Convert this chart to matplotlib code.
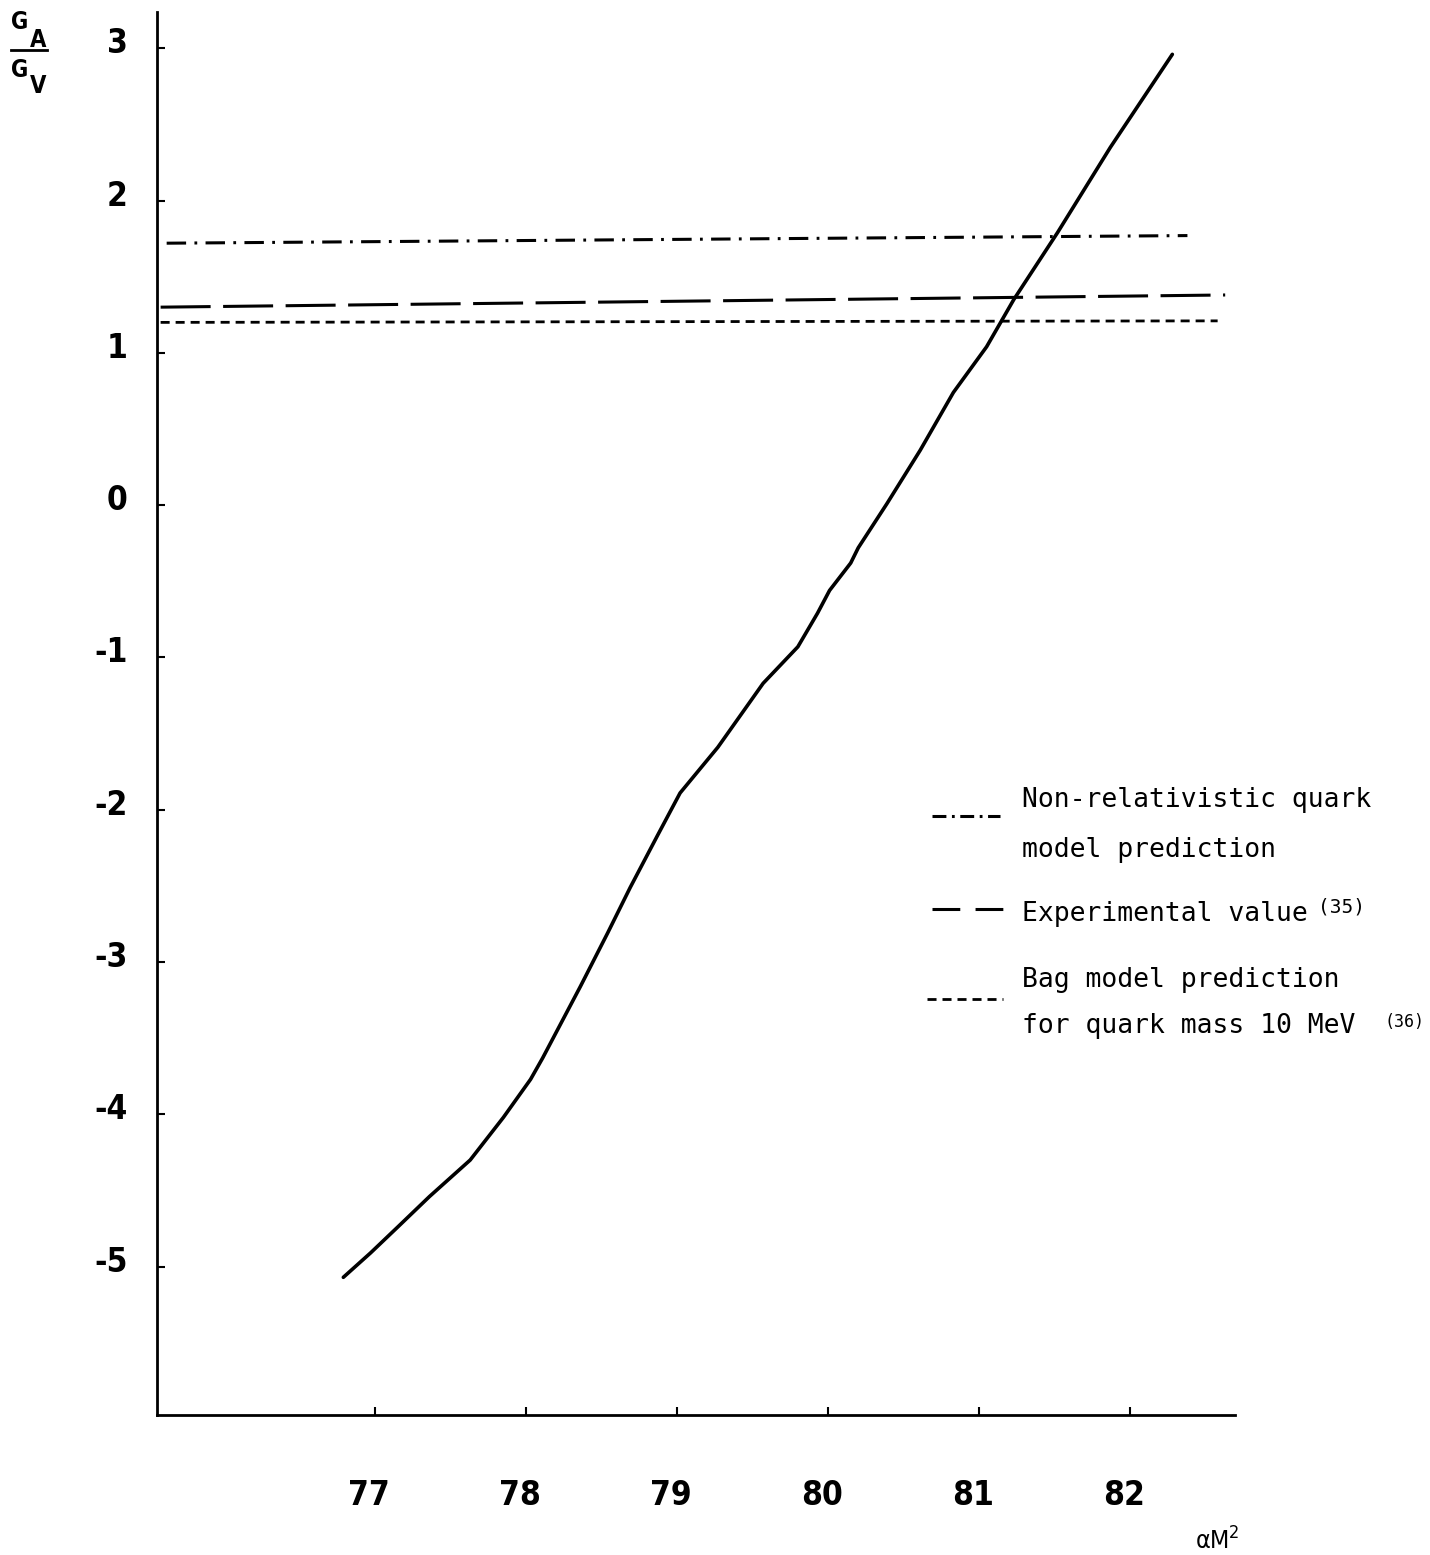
import matplotlib
matplotlib.use("Agg")
import matplotlib.pyplot as plt
from matplotlib import font_manager
from matplotlib.lines import Line2D
from matplotlib.transforms import ScaledTranslation

# G_A/G_V against alpha*M^2
am2 = [76.79, 76.97, 77.15, 77.36, 77.63, 77.85, 78.03, 78.11, 78.36, 78.54,
       78.69, 78.87, 79.02, 79.27, 79.57, 79.80, 79.93, 80.01, 80.15, 80.20,
       80.39, 80.61, 80.83, 81.05, 81.23, 81.52, 81.87, 82.28]
ga_gv = [-5.07, -4.91, -4.74, -4.54, -4.30, -4.02, -3.77, -3.63, -3.16, -2.81,
         -2.51, -2.17, -1.89, -1.59, -1.17, -0.93, -0.71, -0.56, -0.38, -0.28,
         0.01, 0.36, 0.74, 1.04, 1.35, 1.79, 2.35, 2.96]

# reference lines (hand drawn, a bit tilted)
nrqm_x = [75.62, 82.38]
nrqm_y = [1.72, 1.77]
exp_x = [75.58, 82.63]
exp_y = [1.30, 1.38]
bag_x = [75.58, 82.58]
bag_y = [1.20, 1.21]

xticks = [77, 78, 79, 80, 81, 82]
yticks = [3, 2, 1, 0, -1, -2, -3, -4, -5]

names = {f.name for f in font_manager.fontManager.ttflist}
narrow = "Liberation Sans Narrow" if "Liberation Sans Narrow" in names else "DejaVu Sans"
mono = "DejaVu Sans Mono"

plt.rcParams["font.family"] = [narrow, "DejaVu Sans"]
plt.rcParams["font.stretch"] = "condensed"
plt.rcParams["axes.unicode_minus"] = False
plt.rcParams["lines.scale_dashes"] = False

W, H = 1430, 1555
fig = plt.figure(figsize=(W / 100, H / 100), dpi=100)
ax = fig.add_axes([157 / W, 1 - 1415 / H, (1235 - 157) / W, (1415 - 12) / H])


def fx(px):
    return px / W


def fy(py):
    return 1 - py / H


dashdot = (0, (14, 6, 2, 6))
dashed = (0, (36, 9))
dotted = (0, (6.5, 4.3))

ax.plot(am2, ga_gv, color="black", lw=2.6, solid_capstyle="round", solid_joinstyle="round")
ax.plot(nrqm_x, nrqm_y, color="black", lw=2.2, linestyle=dashdot)
ax.plot(exp_x, exp_y, color="black", lw=2.2, linestyle=dashed)
ax.plot(bag_x, bag_y, color="black", lw=2.0, linestyle=dotted)

ax.set_xlim(75.556, 82.695)
ax.set_ylim(-5.974, 3.238)
ax.spines["top"].set_visible(False)
ax.spines["right"].set_visible(False)
ax.spines["left"].set_linewidth(2)
ax.spines["bottom"].set_linewidth(2)

ax.set_xticks(xticks)
ax.set_yticks(yticks)
ax.tick_params(axis="x", direction="in", length=6, width=1.5, pad=46, labelsize=24)
ax.tick_params(axis="y", direction="in", length=6, width=1.5, pad=21, labelsize=24)
for lab in ax.get_xticklabels() + ax.get_yticklabels():
    lab.set_fontweight("bold")

# labels in the original sit a little off their ticks
for t in ax.yaxis.get_major_ticks():
    t.label1.set_transform(t.label1.get_transform() + ScaledTranslation(0, 0.08, fig.dpi_scale_trans))
for t in ax.xaxis.get_major_ticks():
    t.label1.set_transform(t.label1.get_transform() + ScaledTranslation(-0.06, 0, fig.dpi_scale_trans))

# y axis label G_A / G_V
fig.text(fx(20), fy(22), "G", size=17, weight="bold", ha="center", va="center")
fig.text(fx(38), fy(40), "A", size=17, weight="bold", ha="center", va="center")
fig.add_artist(Line2D([fx(11), fx(47)], [fy(50), fy(50)], color="black", lw=2))
fig.text(fx(20), fy(70), "G", size=17, weight="bold", ha="center", va="center")
fig.text(fx(38), fy(86), "V", size=17, weight="bold", ha="center", va="center")

# x axis label
fig.text(fx(1196), fy(1548), "\u03b1M", size=18, va="baseline")
fig.text(fx(1229), fy(1538), "2", size=13, va="baseline")

# legend, drawn by hand like the original
fig.add_artist(Line2D([fx(932), fx(1000)], [fy(816), fy(816)], color="black", lw=2.2,
                      linestyle=(0, (10, 4, 2, 4))))
fig.add_artist(Line2D([fx(932), fx(1003)], [fy(909), fy(909)], color="black", lw=2.2,
                      linestyle=(0, (20, 11))))
fig.add_artist(Line2D([fx(927), fx(1003)], [fy(999), fy(999)], color="black", lw=2.0,
                      linestyle=dotted))

fig.text(fx(1022), fy(807), "Non-relativistic quark", family=mono, size=19, va="baseline")
fig.text(fx(1022), fy(857), "model prediction", family=mono, size=19, va="baseline")
fig.text(fx(1022), fy(921), "Experimental value", family=mono, size=19, va="baseline")
fig.text(fx(1318), fy(912), "(35)", family=mono, size=14, va="baseline")
fig.text(fx(1022), fy(987), "Bag model prediction", family=mono, size=19, va="baseline")
fig.text(fx(1022), fy(1033), "for quark mass 10 MeV", family=mono, size=19, va="baseline")
fig.text(fx(1384), fy(1027), "(36)", family=mono, size=12, va="baseline")

fig.savefig("out.png", dpi=100)
